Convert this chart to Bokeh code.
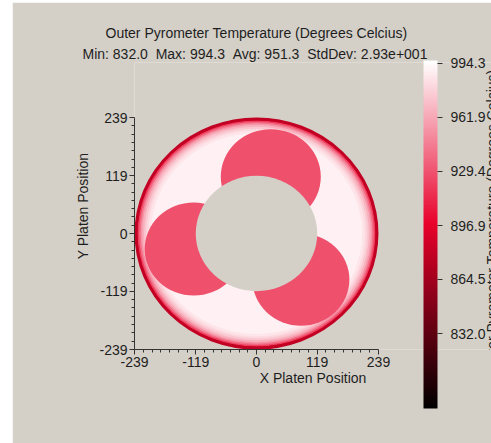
import numpy as np
from bokeh.plotting import figure
from bokeh.models import (Range1d, FixedTicker, LinearColorMapper, ColorBar, Label, Title,
                          ColumnDataSource, PrintfTickFormatter)
from bokeh.transform import transform
from bokeh.embed import file_html
from bokeh.resources import INLINE

# ---------------- data ----------------
title_text = "Outer Pyrometer Temperature (Degrees Celcius)"
stats_text = "Min: 832.0  Max: 994.3  Avg: 951.3  StdDev: 2.93e+001"
cbar_label = "Outer Pyrometer Temperature (Degrees Celcius)"
x_label = "X Platen Position"
y_label = "Y Platen Position"

axis_ticks = [-239, -119, 0, 119, 239]
axis_tick_labels = ["-239", "-119", "0", "119", "239"]
cbar_ticks = [832.0, 864.5, 896.9, 929.4, 961.9, 994.3]
cbar_low, cbar_high = 787.0, 996.0

# radial temperature profile near the wafer edge (outer -> inner)
edge_radius = [236, 233, 230, 227, 224, 220, 216, 212, 207]
edge_temp = [900, 922, 940, 954, 965, 974, 981, 986, 990]

# three cooler lobes
lobe_x = [28, -123, 87]
lobe_y = [117, -32, -95]
lobe_r = [98, 96, 95]
lobe_temp = [929, 929, 929]

rim_r = 236
rim_temp = 880
hole_r = 119

# ---------------- style ----------------
BG = "#d4d0c8"
TXT = "#1e1e1e"
FONT = "Liberation Sans"
FS = "14px"

# colour map: black -> red -> white
anchors_pos = [0.0, 0.53, 1.0]
anchors_rgb = [(0, 0, 0), (232, 0, 42), (255, 255, 255)]
palette = []
for f in np.linspace(0, 1, 256):
    rgb = [int(round(np.interp(f, anchors_pos, [c[i] for c in anchors_rgb]))) for i in range(3)]
    palette.append("#%02x%02x%02x" % tuple(rgb))
mapper = LinearColorMapper(palette=palette, low=cbar_low, high=cbar_high)

# The frame extends to the right edge of the canvas; the axes are bounded to
# the +-239 platen range so the plot area itself is 244 x 232 px.
FW, FH = 357, 287
PX_X = 244 / 478.0
PX_Y = 232 / 478.0
lo = axis_ticks[0]
p = figure(title=None, frame_width=FW, frame_height=FH,
           min_border_left=122, min_border_right=0,
           min_border_top=60, min_border_bottom=94,
           x_range=Range1d(lo, lo + FW / PX_X), y_range=Range1d(lo, lo + FH / PX_Y),
           output_backend="svg", toolbar_location=None,
           background_fill_color=BG, border_fill_color=BG,
           styles={"margin-top": "2px", "margin-left": "12px"})
p.outline_line_color = None
p.grid.visible = False

# titles (stats line closest to the plot, main title above it)
p.add_layout(Title(text=stats_text.replace("  ", "\u00a0\u00a0"), align="left", offset=-52,
                   standoff=2, text_font=FONT, text_font_size=FS, text_font_style="normal",
                   text_color=TXT), "above")
p.add_layout(Title(text=title_text, align="left", offset=-29, standoff=3,
                   text_font=FONT, text_font_size=FS, text_font_style="normal",
                   text_color=TXT), "above")

# edge gradient (filled ellipses from outside in)
edge_src = ColumnDataSource(dict(
    x=[0] * len(edge_radius), y=[0] * len(edge_radius),
    w=[2 * r for r in edge_radius], h=[2 * r for r in edge_radius],
    temp=edge_temp))
p.ellipse(x="x", y="y", width="w", height="h", source=edge_src,
          fill_color=transform("temp", mapper), line_color=None)

# lobes
lobe_src = ColumnDataSource(dict(
    x=lobe_x, y=lobe_y, w=[2 * r for r in lobe_r], h=[2 * r for r in lobe_r],
    temp=lobe_temp))
p.ellipse(x="x", y="y", width="w", height="h", source=lobe_src,
          fill_color=transform("temp", mapper), line_color=None)

# centre hole (no data)
p.ellipse(x=[0], y=[0], width=[2 * hole_r], height=[2 * hole_r],
          fill_color=BG, line_color=None)

# rim
rim_src = ColumnDataSource(dict(x=[0], y=[0], w=[2 * rim_r], h=[2 * rim_r], temp=[rim_temp]))
p.ellipse(x="x", y="y", width="w", height="h", source=rim_src,
          fill_color=None, line_color=transform("temp", mapper), line_width=3)

# axes
def minor_from(majors, n):
    out = []
    for a, b in zip(majors[:-1], majors[1:]):
        out.extend(list(np.linspace(a, b, n + 1)[1:-1]))
    return out

for ax, lab in ((p.xaxis[0], x_label), (p.yaxis[0], y_label)):
    ax.ticker = FixedTicker(ticks=axis_ticks, minor_ticks=minor_from(axis_ticks, 7))
    ax.major_label_overrides = dict(zip(axis_ticks, axis_tick_labels))
    ax.bounds = (axis_ticks[0], axis_ticks[-1])
    ax.axis_label = lab
    ax.axis_label_text_font = FONT
    ax.axis_label_text_font_size = FS
    ax.axis_label_text_font_style = "normal"
    ax.axis_label_text_color = TXT
    ax.major_label_text_font = FONT
    ax.major_label_text_font_size = FS
    ax.major_label_text_color = TXT
    ax.axis_line_color = "#333333"
    ax.major_tick_line_color = "#333333"
    ax.minor_tick_line_color = "#333333"
    ax.major_tick_in = 0
    ax.major_tick_out = 5
    ax.minor_tick_in = 0
    ax.minor_tick_out = 3
    ax.major_label_standoff = 2
p.xaxis[0].axis_label_standoff = 0
p.yaxis[0].axis_label_standoff = 5
p.yaxis[0].major_label_orientation = "horizontal"

cb = ColorBar(color_mapper=mapper, ticker=FixedTicker(ticks=cbar_ticks),
              formatter=PrintfTickFormatter(format="%.1f"),
              location=(289, -59), width=14, height=348, padding=0, margin=0,
              major_tick_in=0, major_tick_out=5, major_tick_line_color="#333333",
              minor_tick_line_color=None, label_standoff=8,
              major_label_text_font=FONT, major_label_text_font_size=FS,
              major_label_text_color=TXT,
              background_fill_color=None, border_line_color=None, bar_line_color=None)
p.add_layout(cb)

# colour-bar label, rotated, running off the right edge (positions relative to frame)
p.add_layout(Label(x=357.5, y=129, x_units="screen", y_units="screen", text=cbar_label,
                   angle=np.pi / 2, text_align="center", text_baseline="middle",
                   text_font=FONT, text_font_size=FS, text_color=TXT))

open("out.html", "w").write(file_html(p, INLINE))
